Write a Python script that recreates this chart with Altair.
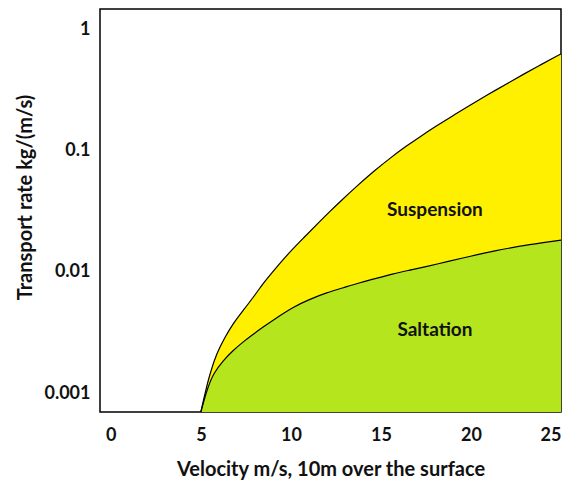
import altair as alt
import pandas as pd

# Upper boundary of the suspension regime (total transport)
sus_x = [5.0, 5.23, 5.51, 5.88, 6.34, 6.80, 7.36, 7.92, 8.47, 8.84, 9.77, 10.69,
         11.62, 12.17, 12.73, 13.65, 14.58, 15.50, 16.43, 17.17, 18.10, 19.02,
         19.95, 20.87, 21.98, 22.91, 23.83, 24.76, 25.0]
sus_y = [0.0007, 0.001, 0.00146, 0.00214, 0.0029, 0.00378, 0.00484, 0.0062, 0.00809,
         0.00942, 0.01377, 0.019, 0.0262, 0.0316, 0.038, 0.0509, 0.0673, 0.0868,
         0.1098, 0.1306, 0.1608, 0.1958, 0.2374, 0.2861, 0.3565, 0.4268, 0.5077,
         0.6026, 0.629]

# Upper boundary of the saltation regime
sal_x = [5.0, 5.33, 5.69, 6.25, 6.80, 7.36, 7.91, 8.47, 9.21, 10.13, 11.06, 11.99,
         12.91, 13.84, 14.77, 15.69, 16.61, 18.28, 19.39, 21.43, 23.28, 25.0]
sal_y = [0.0007, 0.00106, 0.00146, 0.00187, 0.00226, 0.00266, 0.00307, 0.00352,
         0.00420, 0.00515, 0.00597, 0.00675, 0.00741, 0.00816, 0.00889, 0.00968,
         0.01035, 0.01175, 0.0129, 0.0151, 0.0169, 0.0183]

# Region labels
region_names = ["Suspension", "Saltation"]
region_x = [18.0, 18.0]
region_y = [0.0324, 0.00331]

x_ticks = [0, 5, 10, 15, 20, 25]
y_ticks = [0.001, 0.01, 0.1, 1]

Y_MIN, Y_MAX = 0.0007, 1.476
X_MIN, X_MAX = -0.6, 25

FONT = "Lato"
INK = "#111"

sus = pd.DataFrame({"v": sus_x, "q": sus_y})
sal = pd.DataFrame({"v": sal_x, "q": sal_y})
labels = pd.DataFrame({"v": region_x, "q": region_y, "name": region_names})

x_enc = alt.X(
    "v:Q",
    scale=alt.Scale(domain=[X_MIN, X_MAX], nice=False, zero=False),
    axis=alt.Axis(values=x_ticks, title="Velocity m/s, 10m over the surface",
                  grid=False, ticks=False, domain=False, labelPadding=14,
                  labelFontSize=18, labelFontWeight="bold", labelColor=INK,
                  titleFontSize=20, titleFontWeight="bold", titleColor=INK,
                  titlePadding=15, labelFont=FONT, titleFont=FONT),
)
y_enc = alt.Y(
    "q:Q",
    scale=alt.Scale(type="log", domain=[Y_MIN, Y_MAX], nice=False),
    axis=alt.Axis(values=y_ticks, format="~g", title="Transport rate kg/(m/s)",
                  grid=False, ticks=False, domain=False, labelPadding=10,
                  labelFontSize=18, labelFontWeight="bold", labelColor=INK,
                  titleFontSize=20, titleFontWeight="bold", titleColor=INK,
                  titlePadding=8, titleY=188, labelFont=FONT, titleFont=FONT),
)

CURVE = "basis"

suspension_area = alt.Chart(sus).mark_area(color="#FFF000", interpolate=CURVE).encode(
    x=x_enc, y=y_enc, y2=alt.datum(Y_MIN)
)
saltation_area = alt.Chart(sal).mark_area(color="#B5E61D", interpolate=CURVE).encode(
    x="v:Q", y="q:Q", y2=alt.datum(Y_MIN)
)
suspension_line = alt.Chart(sus).mark_line(color="black", strokeWidth=1.2,
                                           interpolate=CURVE).encode(x="v:Q", y="q:Q")
saltation_line = alt.Chart(sal).mark_line(color="black", strokeWidth=1.2,
                                          interpolate=CURVE).encode(x="v:Q", y="q:Q")
region_text = alt.Chart(labels).mark_text(font=FONT, fontSize=19, fontWeight="bold",
                                          color=INK).encode(
    x="v:Q", y="q:Q", text="name:N"
)

chart = alt.layer(
    suspension_area, saltation_area, suspension_line, saltation_line, region_text
).properties(
    width=461, height=403,
    autosize=alt.AutoSizeParams(type="none"),
    padding={"left": 100, "top": 9, "right": 11, "bottom": 70},
    background="white",
).configure_view(stroke="black", strokeWidth=1.5)

chart.save("out.html", embed_options={"renderer": "svg", "actions": False})
